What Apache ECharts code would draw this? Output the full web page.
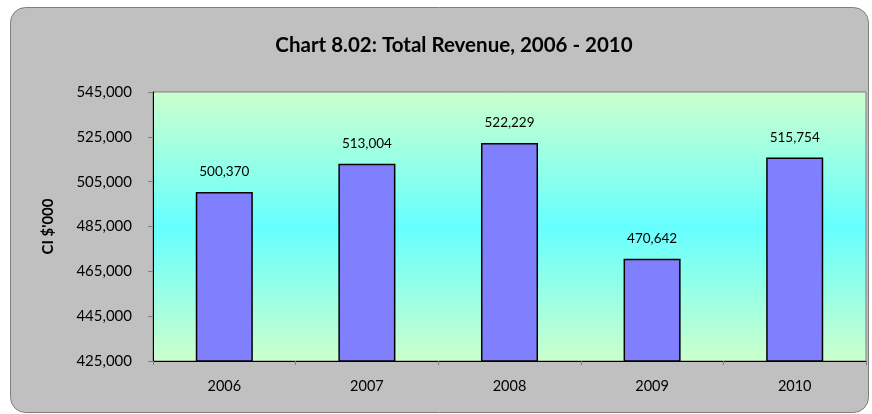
<!DOCTYPE html>
<html>
<head>
<meta charset="utf-8">
<script src="https://cdn.jsdelivr.net/npm/echarts@6/dist/echarts.min.js"></script>
<style>
  html, body { margin: 0; padding: 0; background: #fff; }
  #chart { width: 872px; height: 414px; }
</style>
</head>
<body>
<div id="chart"></div>
<script>
var years = ['2006', '2007', '2008', '2009', '2010'];
var revenue = [500370, 513004, 522229, 470642, 515754];
var yMin = 425000;
var yMax = 545000;
var yStep = 20000;

var fontName = 'Lato, "Open Sans", sans-serif';

var chart = echarts.init(document.getElementById('chart'));

var option = {
  animation: false,
  backgroundColor: '#ffffff',
  textStyle: { fontFamily: fontName, color: '#000' },
  // rounded grey frame behind everything
  graphic: [
    {
      type: 'rect',
      z: -10,
      shape: { x: 10.5, y: 7.5, width: 858, height: 405, r: 15 },
      style: { fill: '#c0c0c0', stroke: '#7f7f7f', lineWidth: 1 }
    }
  ],
  title: {
    text: 'Chart 8.02: Total Revenue, 2006 - 2010',
    left: 449,
    top: 30,
    textAlign: 'center',
    textStyle: { fontFamily: fontName, fontSize: 20.5, fontWeight: 'bold', color: '#000' }
  },
  grid: {
    left: 153,
    top: 92,
    width: 713,
    height: 269,
    show: true,
    borderColor: '#808080',
    borderWidth: 1,
    backgroundColor: new echarts.graphic.LinearGradient(0, 0, 0, 1, [
      { offset: 0, color: '#ccffcc' },
      { offset: 0.5, color: '#66ffff' },
      { offset: 1, color: '#ccffcc' }
    ])
  },
  xAxis: {
    type: 'category',
    data: years,
    boundaryGap: true,
    axisLine: { lineStyle: { color: '#000', width: 1 } },
    axisTick: { show: true, length: 4, lineStyle: { color: '#808080' } },
    axisLabel: { margin: 18, fontSize: 14.5, color: '#000', fontFamily: fontName }
  },
  yAxis: {
    type: 'value',
    min: yMin,
    max: yMax,
    interval: yStep,
    name: "CI $'000",
    nameLocation: 'middle',
    nameGap: 97,
    nameRotate: 90,
    nameTextStyle: { fontFamily: fontName, fontSize: 15, fontWeight: 'bold', color: '#000' },
    axisLine: { show: true, lineStyle: { color: '#000', width: 1 } },
    axisTick: { show: true, length: 5, lineStyle: { color: '#808080' } },
    splitLine: { show: false },
    axisLabel: {
      margin: 21,
      fontSize: 15,
      color: '#000',
      fontFamily: fontName,
      formatter: function (v) { return v.toLocaleString('en-US'); }
    }
  },
  series: [
    {
      type: 'bar',
      data: revenue,
      barWidth: '40%',
      itemStyle: { color: '#8080ff', borderColor: '#000', borderWidth: 1.5 },
      label: {
        show: true,
        position: 'top',
        distance: 13,
        fontSize: 13.5,
        color: '#000',
        fontFamily: fontName,
        formatter: function (p) { return p.value.toLocaleString('en-US'); }
      }
    }
  ]
};

chart.setOption(option);
</script>
</body>
</html>
